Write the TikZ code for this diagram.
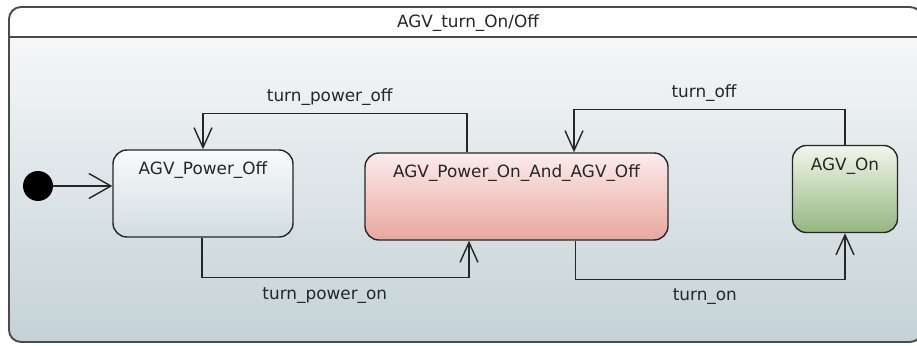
\documentclass[tikz,border=0pt]{standalone}
\usepackage{fontspec}
\setmainfont{DejaVu Sans}
\usepackage{tikz}
\usetikzlibrary{arrows.meta,positioning,calc}
\definecolor{fline}{RGB}{75,75,75}
\definecolor{bgtop}{RGB}{250,251,251}
\definecolor{bgbot}{RGB}{196,210,215}
\definecolor{offtop}{RGB}{248,250,251}
\definecolor{offbot}{RGB}{210,221,225}
\definecolor{mixtop}{RGB}{251,236,236}
\definecolor{mixbot}{RGB}{233,166,158}
\definecolor{ontop}{RGB}{242,246,236}
\definecolor{onbot}{RGB}{148,183,128}
\newcommand{\lblfont}{\fontsize{9.6}{11}\selectfont}
\tikzset{
  stt/.style ={rectangle, rounded corners=0.28cm, draw=black!85, line width=0.8pt,
               minimum height=1.74cm, inner sep=0pt},
  sttname/.style={font=\lblfont, text=black!85, anchor=center, yshift=-0.42cm},
  tr/.style  ={-{Straight Barb[length=0.4cm,width=0.36cm]}, draw=black!85, line width=0.8pt},
  lbl/.style ={font=\lblfont, text=black!85}
}

\begin{document}
\begin{tikzpicture}
\useasboundingbox (0,0) rectangle (18.34,6.9);
% frame of the state machine
\path[top color=bgtop, bottom color=bgbot, rounded corners=0.24cm] (0.18,0.06) rectangle (18.44,6.76);
\fill[white, rounded corners=0.24cm] (0.18,6.16) rectangle (18.44,6.76);
\fill[white] (0.18,6.16) rectangle (18.44,6.45);
\draw[fline, line width=1.1pt, rounded corners=0.24cm] (0.18,0.06) rectangle (18.44,6.76);
\draw[fline, line width=1.1pt] (0.18,6.16) -- (18.44,6.16);
\node[lbl] (ttl) at (9.36,6.44) {AGV\_turn\_On/Off};
% states
\node[circle, fill=black, minimum size=0.6cm, inner sep=0pt] (init) at (0.76,3.18) {};
\node[stt, minimum width=3.6cm, top color=offtop, bottom color=offbot,
  label={[sttname]north:AGV\_Power\_Off}] (poff) at (4.06,3.03) {};
\node[stt, minimum width=6.06cm, top color=mixtop, bottom color=mixbot,
  label={[sttname]north:AGV\_Power\_On\_And\_AGV\_Off}] (pon) at (10.33,2.97) {};
\node[stt, minimum width=2.1cm, top color=ontop, bottom color=onbot,
  label={[sttname]north:AGV\_On}] (aon) at (16.9,3.12) {};
% transitions
\draw[tr, -{Straight Barb[length=0.44cm,width=0.5cm]}] (init) -- (init -| poff.west);
\draw[tr] ([xshift=-0.99cm]pon.north) |- node[lbl, above, pos=0.76, yshift=0.03cm] {turn\_power\_off}
  ([yshift=0.72cm]poff.north) -- (poff.north);
\draw[tr] (aon.north) |- node[lbl, above, pos=0.76, yshift=0.03cm] {turn\_off}
  ([xshift=1.15cm,yshift=0.86cm]pon.north) -- ([xshift=1.15cm]pon.north);
\draw[tr] ([xshift=-0.02cm]poff.south) |- node[lbl, below, pos=0.73, yshift=-0.06cm] {turn\_power\_on}
  ([xshift=-0.95cm,yshift=-0.74cm]pon.south) -- ([xshift=-0.95cm]pon.south);
\draw[tr] ([xshift=1.18cm]pon.south) |- node[lbl, below, pos=0.74, yshift=-0.06cm] {turn\_on}
  ([yshift=-0.92cm]aon.south) -- (aon.south);
\end{tikzpicture}
\end{document}
